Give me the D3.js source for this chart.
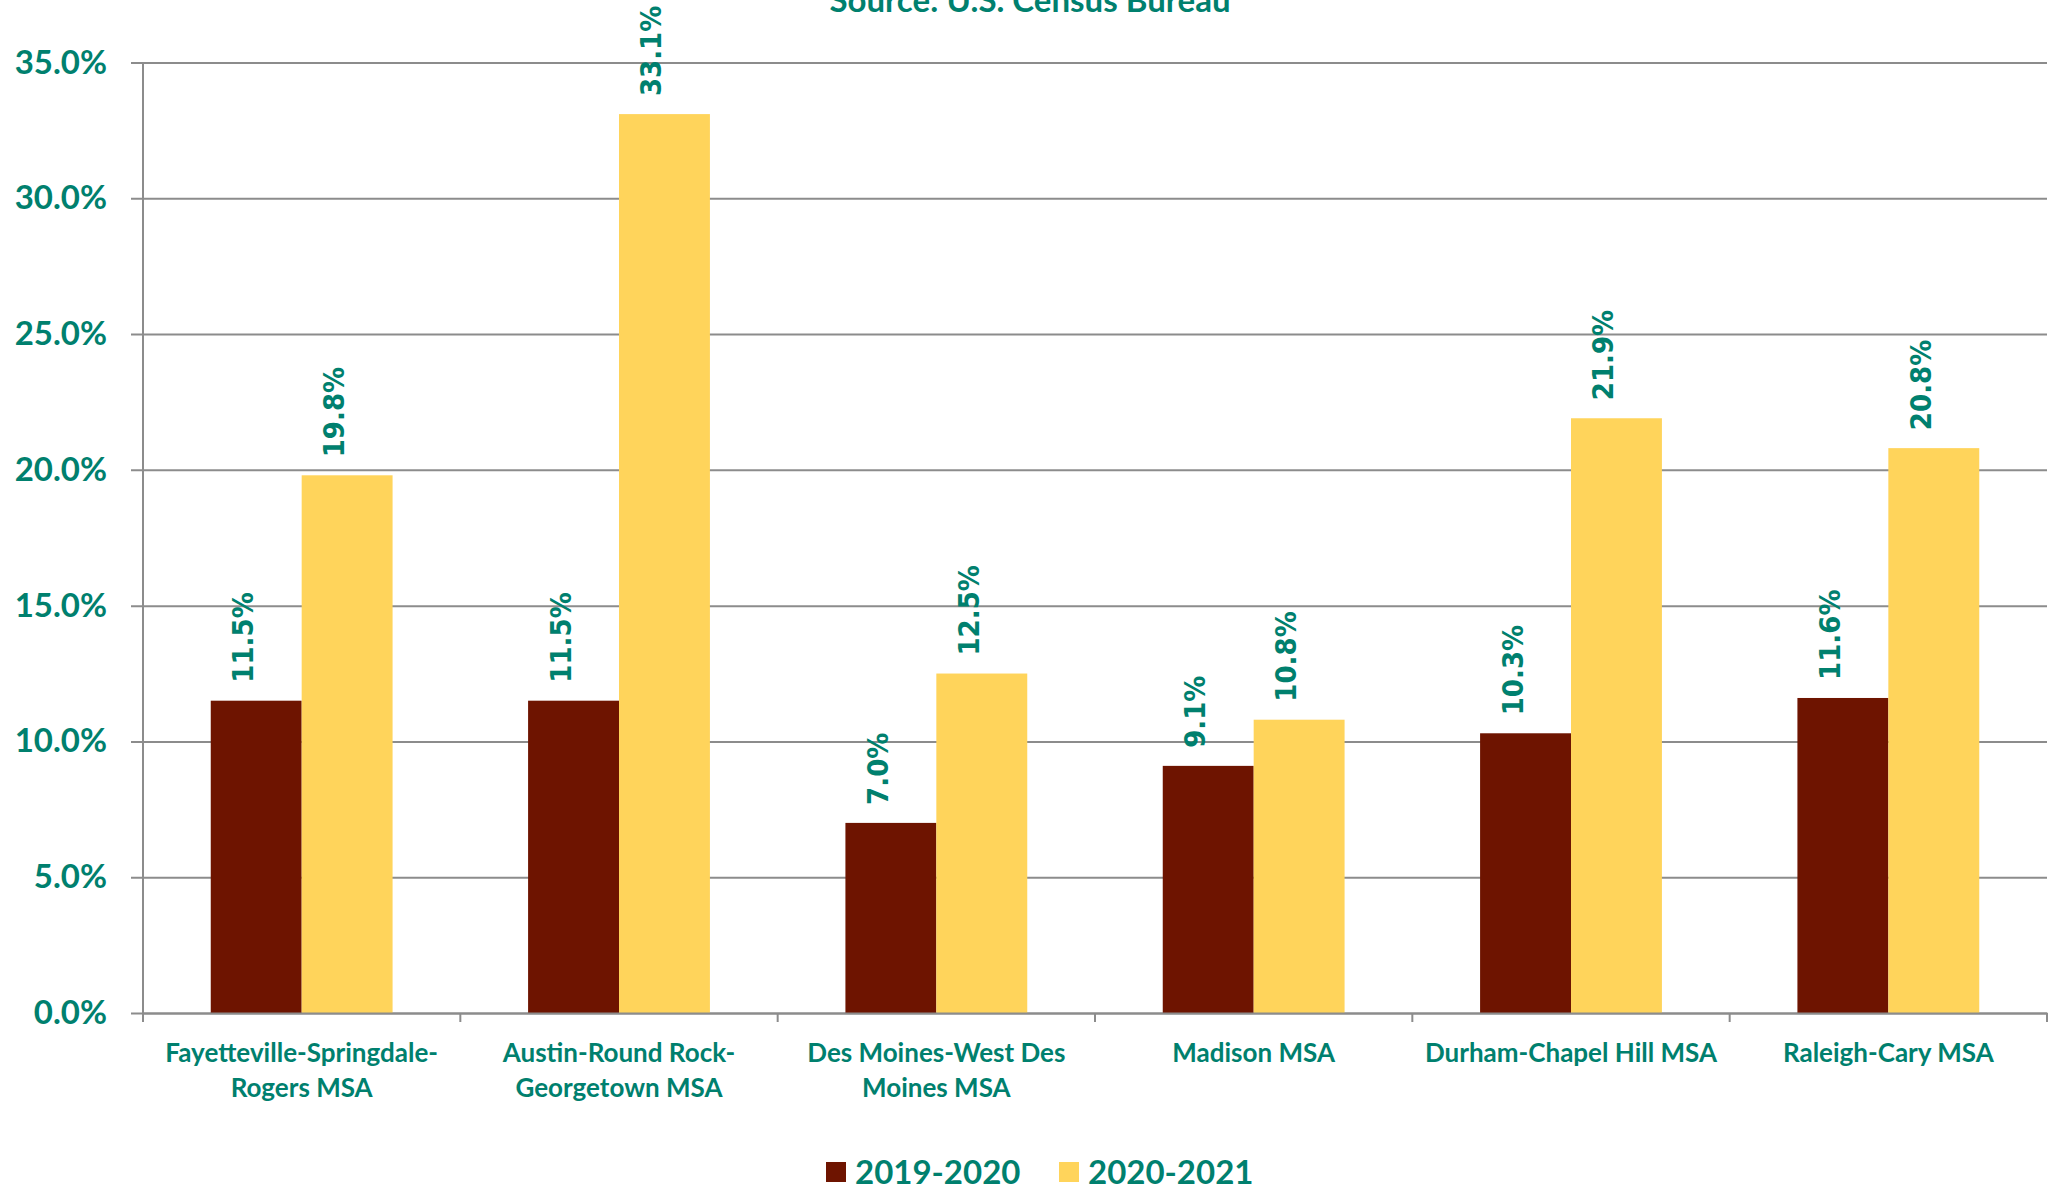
<!DOCTYPE html>
<html>
<head>
<meta charset="utf-8">
<script src="https://cdn.jsdelivr.net/npm/d3@7"></script>
<style>
  html, body { margin: 0; padding: 0; background: #fff; }
  svg { display: block; }
</style>
</head>
<body>
<svg width="2063" height="1190"></svg>
<script>
// data
const categories = [
  "Fayetteville-Springdale-Rogers MSA",
  "Austin-Round Rock-Georgetown MSA",
  "Des Moines-West Des Moines MSA",
  "Madison MSA",
  "Durham-Chapel Hill MSA",
  "Raleigh-Cary MSA"
];
const categoryLines = [
  ["Fayetteville-Springdale-", "Rogers MSA"],
  ["Austin-Round Rock-", "Georgetown MSA"],
  ["Des Moines-West Des", "Moines MSA"],
  ["Madison MSA"],
  ["Durham-Chapel Hill MSA"],
  ["Raleigh-Cary MSA"]
];
const series = ["2019-2020", "2020-2021"];
const values2019 = [11.5, 11.5, 7.0, 9.1, 10.3, 11.6];
const values2020 = [19.8, 33.1, 12.5, 10.8, 21.9, 20.8];
const yTicks = [0, 5, 10, 15, 20, 25, 30, 35];
const colors = ["#6E1400", "#FFD45B"];

const teal = "#00806E";
const grid = "#8C8C8C";

const svg = d3.select("svg");
const plotLeft = 143, plotRight = 2047, plotTop = 62.5, plotBottom = 1013;

const x = d3.scaleBand()
  .domain(categories)
  .range([plotLeft, plotRight])
  .padding(0);
const bw = x.bandwidth();
const xs = d3.scaleBand()
  .domain(series)
  .range([bw * 0.2135, bw * 0.7865])
  .padding(0);
const y = d3.scaleLinear()
  .domain([0, 35])
  .range([plotBottom, plotTop]);

const rows = categories.map((c, i) => ({
  cat: c,
  vals: [
    { s: series[0], v: values2019[i] },
    { s: series[1], v: values2020[i] }
  ]
}));

// title (cut off at top in the original)
svg.append("text")
  .attr("x", 1030)
  .attr("y", 12)
  .attr("text-anchor", "middle")
  .attr("font-family", "Lato")
  .attr("font-weight", "bold")
  .attr("font-size", 33)
  .attr("fill", teal)
  .text("Source: U.S. Census Bureau");

// gridlines + y axis
const yAxis = d3.axisLeft(y)
  .tickValues(yTicks)
  .tickSize(-(plotRight - plotLeft))
  .tickSizeOuter(0)
  .tickPadding(36)
  .tickFormat(d => d3.format(".1f")(d) + "%");
const gy = svg.append("g")
  .attr("transform", `translate(${plotLeft},0)`)
  .call(yAxis);
gy.select(".domain").remove();
gy.selectAll(".tick line")
  .attr("x1", -12)
  .attr("stroke", grid)
  .attr("stroke-width", 2);
gy.selectAll(".tick text")
  .attr("font-family", "Lato")
  .attr("font-weight", "bold")
  .attr("font-size", 33)
  .attr("fill", teal);

svg.append("line")
  .attr("x1", plotLeft).attr("x2", plotLeft)
  .attr("y1", plotTop).attr("y2", plotBottom)
  .attr("stroke", grid)
  .attr("stroke-width", 2);

// bars
const groups = svg.append("g")
  .selectAll("g")
  .data(rows).enter()
  .append("g")
  .attr("transform", d => `translate(${x(d.cat)},0)`);

groups.selectAll("rect")
  .data(d => d.vals).enter()
  .append("rect")
  .attr("x", d => xs(d.s))
  .attr("width", xs.bandwidth())
  .attr("y", d => y(d.v))
  .attr("height", d => y(0) - y(d.v))
  .attr("fill", (d, i) => colors[i]);

// rotated value labels, baseline slightly left of the bar centre
groups.selectAll("text.val")
  .data(d => d.vals).enter()
  .append("text")
  .attr("class", "val")
  .attr("transform", d => `translate(${xs(d.s) + xs.bandwidth() / 2 - 3},${y(d.v) - 18}) rotate(-90)`)
  .attr("font-family", "'DejaVu Sans Condensed', 'DejaVu Sans'")
  .attr("font-weight", "bold")
  .attr("font-size", 29)
  .attr("fill", teal)
  .text(d => d3.format(".1f")(d.v) + "%");

// x axis
const xAxis = d3.axisBottom(x)
  .tickValues([])
  .tickSizeOuter(0);
const gx = svg.append("g")
  .attr("transform", `translate(0,${plotBottom})`)
  .call(xAxis);
gx.select(".domain")
  .attr("stroke", grid)
  .attr("stroke-width", 2);
gx.selectAll("line.sep")
  .data(categories.map(c => x(c)).concat([plotRight])).enter()
  .append("line")
  .attr("class", "sep")
  .attr("x1", d => d).attr("x2", d => d)
  .attr("y1", 0).attr("y2", 9)
  .attr("stroke", grid)
  .attr("stroke-width", 2);

const catText = svg.append("g")
  .selectAll("text")
  .data(categories).enter()
  .append("text")
  .attr("text-anchor", "middle")
  .attr("font-family", "Lato")
  .attr("font-weight", "bold")
  .attr("font-size", 26)
  .attr("fill", teal);
catText.selectAll("tspan")
  .data((d, i) => categoryLines[i]).enter()
  .append("tspan")
  .attr("x", function() { const c = d3.select(this.parentNode).datum(); return x(c) + bw / 2; })
  .attr("y", (d, j) => 1062 + j * 35)
  .text(d => d);

// legend
const legendX = [826, 1059];
const legend = svg.append("g")
  .selectAll("g")
  .data(series).enter()
  .append("g")
  .attr("transform", (d, i) => `translate(${legendX[i]},1162)`);
legend.append("rect")
  .attr("width", 20)
  .attr("height", 20)
  .attr("fill", (d, i) => colors[i]);
legend.append("text")
  .attr("x", 29)
  .attr("y", 22)
  .attr("font-family", "Lato")
  .attr("font-weight", "bold")
  .attr("font-size", 33)
  .attr("fill", teal)
  .text(d => d);
</script>
</body>
</html>
